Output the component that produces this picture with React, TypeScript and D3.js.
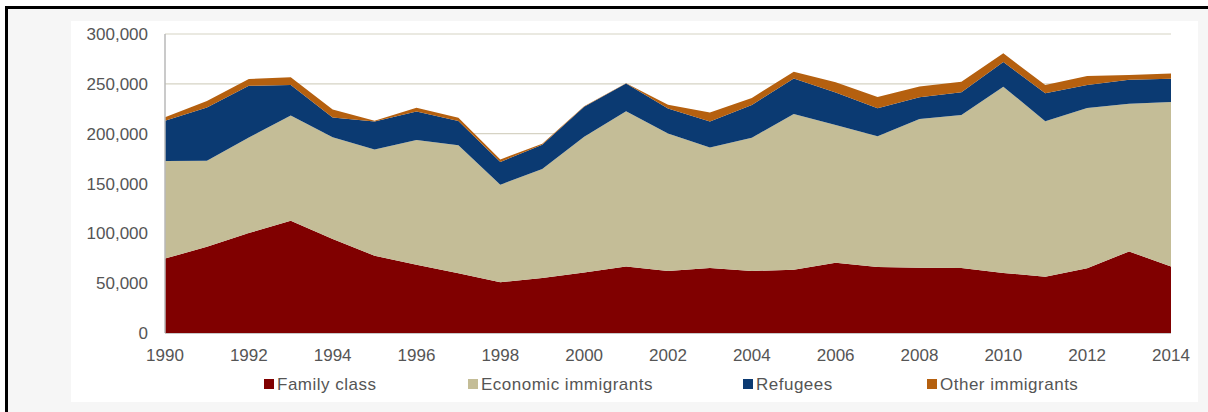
import React from "react";
import * as d3 from "d3";

const years = [1990,1991,1992,1993,1994,1995,1996,1997,1998,1999,2000,2001,2002,2003,2004,2005,2006,2007,2008,2009,2010,2011,2012,2013,2014];
const familyClass = [74686,86418,100219,112642,94196,77387,68360,59979,50896,55276,60616,66793,62290,65120,62272,63374,70516,66240,65582,65206,60220,56449,65010,81831,66661];
const economicImmigrants = [97923,86529,95825,105672,102315,106628,125369,128351,97911,109251,136282,155713,137863,121046,133746,156312,138252,131244,149071,153491,186913,156118,160819,148181,165089];
const refugees = [40237,53399,51934,30590,19772,28089,28474,24308,22843,24396,30091,27917,25118,25983,32687,35775,32499,27955,21860,22850,24697,27873,23098,24049,23286];
const otherImmigrants = [3606,6398,6809,7737,8081,761,3868,3397,2545,1028,469,215,3777,9200,7118,6781,10382,11314,10734,10627,8845,8307,8960,4912,5368];
const seriesNames = ["Family class","Economic immigrants","Refugees","Other immigrants"];
const seriesColors = ["#800000","#c4bd97","#0b3a72","#b5600f"];
const yTicks = [0,50000,100000,150000,200000,250000,300000];
const xTicks = [1990,1992,1994,1996,1998,2000,2002,2004,2006,2008,2010,2012,2014];
const legendX = [264,468,743,927];

export default function App() {
  const W = 1208, H = 412;
  const x = d3.scaleLinear().domain([1990, 2014]).range([165, 1171]);
  const y = d3.scaleLinear().domain([0, 300000]).range([333, 34]);
  const rows = years.map((yr, i) => ({
    year: yr,
    s0: familyClass[i],
    s1: economicImmigrants[i],
    s2: refugees[i],
    s3: otherImmigrants[i],
  }));
  const stack = d3.stack<any>().keys(["s0","s1","s2","s3"]);
  const layers = stack(rows);
  const area = d3.area<any>()
    .x((d) => x(d.data.year))
    .y0((d) => y(d[0]))
    .y1((d) => y(d[1]));
  const fmt = d3.format(",");
  const font = "'Liberation Sans', Arial, sans-serif";
  return (
    <svg width={W} height={H} style={{ position: "absolute", left: 0, top: 0 }} fontFamily={font}>
      <rect x={0} y={0} width={W} height={H} fill="#ffffff" />
      <rect x={8} y={9} width={W - 8} height={H - 9} fill="#f6f6f6" />
      <rect x={71} y={21} width={1127} height={381} fill="#ffffff" />
      <line x1={6.5} y1={9} x2={6.5} y2={H} stroke="#000" strokeWidth={3} />
      <line x1={5} y1={7.5} x2={W} y2={7.5} stroke="#000" strokeWidth={3} />
      {yTicks.map((t) => (
        <line key={"g" + t} x1={165} x2={1171} y1={y(t)} y2={y(t)} stroke="#d6d3c4" strokeWidth={1.2} />
      ))}
      {layers.map((layer, i) => (
        <path key={"a" + i} d={area(layer) || ""} fill={seriesColors[i]} />
      ))}
      <line x1={165} x2={165} y1={34} y2={333} stroke="#b8b8b8" strokeWidth={1.5} />
      <line x1={165} x2={1171} y1={333.5} y2={333.5} stroke="#c8c8c8" strokeWidth={1} />
      {yTicks.map((t) => (
        <text key={"yl" + t} x={148} y={y(t) + 6} textAnchor="end" fontSize={17} fill="#555">{fmt(t)}</text>
      ))}
      {xTicks.map((t) => (
        <text key={"xl" + t} x={x(t)} y={361} textAnchor="middle" fontSize={17} fill="#555">{t}</text>
      ))}
      {seriesNames.map((n, i) => (
        <g key={"lg" + i}>
          <rect x={legendX[i]} y={379} width={10} height={10} fill={seriesColors[i]} />
          <text x={legendX[i] + 13} y={390} fontSize={17} letterSpacing={0.5} fill="#555">{n}</text>
        </g>
      ))}
    </svg>
  );
}
